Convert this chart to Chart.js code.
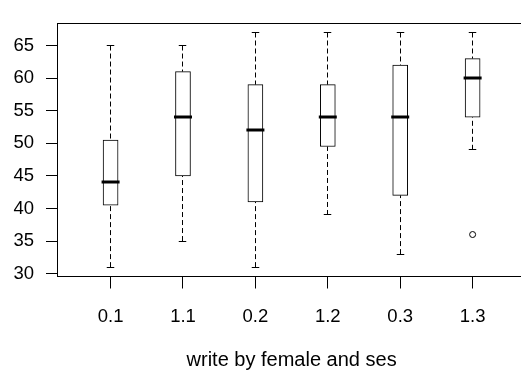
<!DOCTYPE html>
<html>
<head>
<meta charset="utf-8">
<script src="https://cdn.jsdelivr.net/npm/chart.js@4.4.1/dist/chart.umd.min.js"></script>
<style>
  html, body { margin: 0; padding: 0; background: #fff; }
  #wrap { width: 521px; height: 372px; overflow: hidden; }
</style>
</head>
<body>
<div id="wrap"><canvas id="box" width="535" height="372"></canvas></div>
<script>
// -------------------------------
// DONNEES (write par female et ses)
// -------------------------------
const GROUPS = ["0.1", "1.1", "0.2", "1.2", "0.3", "1.3"];
const WHISKER_LOW = [31, 35, 31, 39, 33, 49];
const Q1 = [40.5, 45, 41, 49.5, 42, 54];
const MEDIAN = [44, 54, 52, 54, 54, 60];
const Q3 = [50.5, 61, 59, 59, 62, 63];
const WHISKER_HIGH = [65, 65, 67, 67, 67, 67];
const OUTLIER_GROUP = ["1.3"];
const OUTLIER_VALUE = [36];
const Y_TICKS = [30, 35, 40, 45, 50, 55, 60, 65];

const INK = '#000';
const BOX_W = 15;

Chart.defaults.font.family = '"Liberation Sans", Arial, sans-serif';
Chart.defaults.font.size = 18.5;
Chart.defaults.color = INK;

// aligne une coordonnée sur le demi-pixel
function crisp(v) {
  return Math.round(v - 0.5) + 0.5;
}

// moustaches, médianes et cadre (à la façon de R)
const boxExtras = {
  id: 'boxExtras',
  beforeDatasetsDraw(chart) {
    const { ctx, scales: { x, y } } = chart;
    ctx.save();
    ctx.strokeStyle = INK;
    ctx.lineWidth = 1;
    GROUPS.forEach((g, i) => {
      const px = crisp(x.getPixelForValue(i + 1));
      ctx.setLineDash([5, 3]);
      ctx.beginPath();
      ctx.moveTo(px, y.getPixelForValue(WHISKER_HIGH[i]));
      ctx.lineTo(px, y.getPixelForValue(Q3[i]));
      ctx.moveTo(px, y.getPixelForValue(WHISKER_LOW[i]));
      ctx.lineTo(px, y.getPixelForValue(Q1[i]));
      ctx.stroke();
      ctx.setLineDash([]);
      ctx.beginPath();
      [WHISKER_HIGH[i], WHISKER_LOW[i]].forEach(v => {
        const py = crisp(y.getPixelForValue(v));
        ctx.moveTo(px - BOX_W / 4, py);
        ctx.lineTo(px + BOX_W / 4, py);
      });
      ctx.stroke();
    });
    ctx.restore();
  },
  afterDatasetsDraw(chart) {
    const { ctx, scales: { x, y } } = chart;
    ctx.save();
    ctx.strokeStyle = INK;
    ctx.lineWidth = 3;
    GROUPS.forEach((g, i) => {
      const px = x.getPixelForValue(i + 1);
      const py = Math.round(y.getPixelForValue(MEDIAN[i]));
      ctx.beginPath();
      ctx.moveTo(px - BOX_W / 2 - 1.5, py);
      ctx.lineTo(px + BOX_W / 2 + 1.5, py);
      ctx.stroke();
    });
    ctx.restore();
  },
  afterDraw(chart) {
    const { ctx, chartArea: a } = chart;
    ctx.save();
    ctx.strokeStyle = INK;
    ctx.lineWidth = 1;
    const l = crisp(a.left), t = crisp(a.top), b = crisp(a.bottom), r = crisp(a.right);
    ctx.strokeRect(l, t, r - l, b - t);
    ctx.restore();
  }
};

new Chart(document.getElementById('box'), {
  type: 'bar',
  data: {
    datasets: [{
      data: GROUPS.map((g, i) => ({ x: i + 1, y: [Q1[i], Q3[i]] })),
      backgroundColor: '#fff',
      borderColor: INK,
      borderWidth: 1,
      borderSkipped: false,
      barThickness: BOX_W
    }, {
      type: 'scatter',
      data: OUTLIER_GROUP.map((g, k) => ({ x: GROUPS.indexOf(g) + 1, y: OUTLIER_VALUE[k] })),
      pointRadius: 3,
      pointBorderWidth: 1,
      pointBorderColor: INK,
      pointBackgroundColor: '#fff'
    }]
  },
  options: {
    responsive: false,
    animation: false,
    events: [],
    layout: { padding: { top: 9, right: 8.8, left: 0, bottom: 0 } },
    plugins: { legend: { display: false }, tooltip: { enabled: false } },
    scales: {
      x: {
        type: 'linear',
        min: 0.26,
        max: 6.74,
        offset: false,
        border: { display: false },
        grid: { display: true, offset: false, drawOnChartArea: false, tickLength: 12, tickColor: INK, tickWidth: 1 },
        afterBuildTicks: s => { s.ticks = GROUPS.map((g, i) => ({ value: i + 1 })); },
        afterFit: s => { s.height = 95.5; },
        ticks: { autoSkip: false, maxRotation: 0, padding: 17, callback: v => GROUPS[v - 1] },
        title: { display: true, text: 'write by female and ses', font: { size: 20 }, padding: { top: 0, bottom: 0 } }
      },
      y: {
        min: 29.56,
        max: 68.44,
        beginAtZero: false,
        border: { display: false },
        grid: { display: true, drawOnChartArea: false, tickLength: 11, tickColor: INK, tickWidth: 1 },
        afterBuildTicks: s => { s.ticks = Y_TICKS.map(v => ({ value: v })); },
        afterFit: s => { s.width = 57; },
        ticks: { padding: 12, callback: v => String(v) }
      }
    }
  },
  plugins: [boxExtras]
});
</script>
</body>
</html>
